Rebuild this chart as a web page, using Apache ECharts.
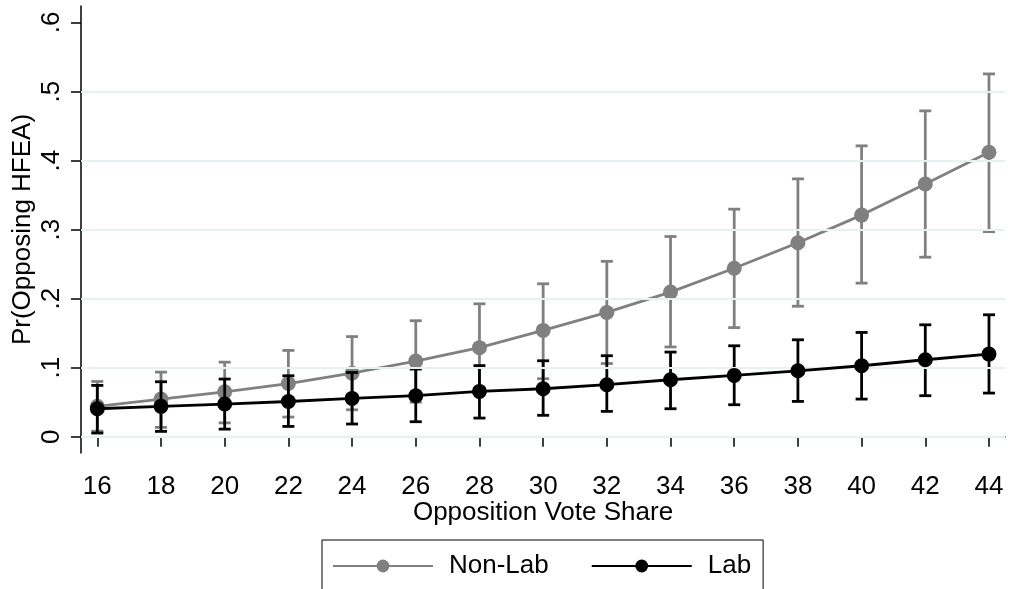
<!DOCTYPE html>
<html>
<head>
<meta charset="utf-8">
<script src="https://cdn.jsdelivr.net/npm/echarts@6/dist/echarts.min.js"></script>
<style>
html,body{margin:0;padding:0;background:#fff;}
#chart{width:1010px;height:589px;}
</style>
</head>
<body>
<div id="chart"></div>
<script>
// ---- data ----
const xVals = [16, 18, 20, 22, 24, 26, 28, 30, 32, 34, 36, 38, 40, 42, 44];
const nonLabMean = [0.044, 0.0545, 0.065, 0.077, 0.092, 0.1095, 0.129, 0.154, 0.180, 0.2095, 0.244, 0.281, 0.321, 0.366, 0.412];
const nonLabLo   = [0.008, 0.0135, 0.020, 0.0285, 0.039, 0.050, 0.066, 0.084, 0.106, 0.130, 0.158, 0.189, 0.2225, 0.260, 0.297];
const nonLabHi   = [0.080, 0.0936, 0.108, 0.125, 0.145, 0.168, 0.1925, 0.2215, 0.254, 0.290, 0.3296, 0.3735, 0.4213, 0.472, 0.5255];
const labMean = [0.0405, 0.044, 0.0473, 0.051, 0.0555, 0.0594, 0.0656, 0.0695, 0.0753, 0.0825, 0.0888, 0.0955, 0.1028, 0.1115, 0.1197];
const labLo   = [0.0053, 0.0077, 0.011, 0.0149, 0.0184, 0.0217, 0.027, 0.031, 0.0367, 0.0405, 0.0463, 0.0511, 0.0545, 0.0594, 0.0632];
const labHi   = [0.0743, 0.0796, 0.0835, 0.0883, 0.093, 0.098, 0.103, 0.110, 0.1173, 0.1226, 0.1317, 0.1404, 0.151, 0.1621, 0.1766];
const xTicks = [16, 18, 20, 22, 24, 26, 28, 30, 32, 34, 36, 38, 40, 42, 44];
const yTicks = [0, 0.1, 0.2, 0.3, 0.4, 0.5, 0.6];
const yGrid = [0, 0.1, 0.2, 0.3, 0.4, 0.5];
const seriesNames = ['Non-Lab', 'Lab'];
const xTitle = 'Opposition Vote Share';
const yTitle = 'Pr(Opposing HFEA)';

const GRAY = '#808080';
const BLACK = '#000000';
const FONT = 'Liberation Sans, Arial, Helvetica, sans-serif';
const FS = 26;
const LW = 2.8;

function meanData(m) { return xVals.map((x, i) => [x, m[i]]); }
function ciData(lo, hi) { return xVals.map((x, i) => [x, lo[i], hi[i]]); }

function ciRender(color) {
  return function (params, api) {
    const x = api.value(0), lo = api.value(1), hi = api.value(2);
    const pLo = api.coord([x, lo]);
    const pHi = api.coord([x, hi]);
    const hw = 6;
    const st = { stroke: color, lineWidth: LW };
    return {
      type: 'group',
      children: [
        { type: 'line', shape: { x1: pLo[0], y1: pLo[1], x2: pHi[0], y2: pHi[1] }, style: st },
        { type: 'line', shape: { x1: pLo[0] - hw, y1: pLo[1], x2: pLo[0] + hw, y2: pLo[1] }, style: st },
        { type: 'line', shape: { x1: pHi[0] - hw, y1: pHi[1], x2: pHi[0] + hw, y2: pHi[1] }, style: st }
      ]
    };
  };
}

const chart = echarts.init(document.getElementById('chart'), null, { renderer: 'canvas' });
chart.setOption({
  animation: false,
  backgroundColor: '#ffffff',
  textStyle: { fontFamily: FONT, color: '#000' },
  grid: { left: 81, right: 5, top: 6, bottom: 136, containLabel: false, outerBoundsMode: 'none' },
  xAxis: {
    type: 'value',
    min: 15.488,
    max: 44.503,
    name: xTitle,
    nameLocation: 'middle',
    nameGap: 47,
    nameMoveOverlap: false,
    nameTextStyle: { fontSize: FS, fontFamily: FONT, color: '#000' },
    axisLine: { show: true, lineStyle: { color: '#000', width: 1.5 } },
    axisTick: { show: true, length: 10, customValues: xTicks, lineStyle: { color: '#000', width: 1.5 } },
    axisLabel: { customValues: xTicks, fontSize: FS, fontFamily: FONT, color: '#000', margin: 21,
      formatter: v => String(Math.round(v)) },
    splitLine: { show: false }
  },
  yAxis: {
    type: 'value',
    min: -0.0236,
    max: 0.6239,
    name: yTitle,
    nameLocation: 'middle',
    nameGap: 45,
    nameMoveOverlap: false,
    nameTextStyle: { fontSize: FS, fontFamily: FONT, color: '#000' },
    axisLine: { show: true, lineStyle: { color: '#000', width: 1.5 } },
    axisTick: { show: true, length: 10, customValues: yTicks, lineStyle: { color: '#000', width: 1.5 } },
    axisLabel: { customValues: yTicks, rotate: 90, fontSize: FS, fontFamily: FONT, color: '#000', margin: 16,
      formatter: v => (Math.abs(v) < 1e-9 ? '0' : String(+v.toFixed(1)).replace(/^0/, '')) },
    splitLine: { show: false }
  },
  legend: {
    data: seriesNames,
    left: 322,
    top: 540,
    orient: 'horizontal',
    itemWidth: 100,
    itemHeight: 16,
    itemGap: 42,
    padding: [13, 12, 40, 10],
    borderColor: '#000',
    borderWidth: 1,
    backgroundColor: '#fff',
    textStyle: { fontSize: FS, fontFamily: FONT, color: '#000', padding: [0, 0, 0, 11] }
  },
  series: [
    {
      name: 'grid',
      type: 'line',
      data: [],
      silent: true,
      markLine: {
        silent: true,
        symbol: 'none',
        label: { show: false },
        lineStyle: { color: '#e8f0f2', width: 2, type: 'solid' },
        data: yGrid.map(v => ({ yAxis: v }))
      }
    },
    {
      name: 'Non-Lab CI',
      type: 'custom',
      renderItem: ciRender(GRAY),
      data: ciData(nonLabLo, nonLabHi),
      encode: { x: 0, y: [1, 2] },
      z: 2
    },
    {
      name: 'Non-Lab',
      type: 'line',
      data: meanData(nonLabMean),
      symbol: 'circle',
      symbolSize: 15,
      color: GRAY,
      itemStyle: { color: GRAY },
      lineStyle: { color: GRAY, width: LW },
      z: 3
    },
    {
      name: 'Lab CI',
      type: 'custom',
      renderItem: ciRender(BLACK),
      data: ciData(labLo, labHi),
      encode: { x: 0, y: [1, 2] },
      z: 4
    },
    {
      name: 'Lab',
      type: 'line',
      data: meanData(labMean),
      symbol: 'circle',
      symbolSize: 15,
      color: BLACK,
      itemStyle: { color: BLACK },
      lineStyle: { color: BLACK, width: LW },
      z: 5
    }
  ]
});
</script>
</body>
</html>
